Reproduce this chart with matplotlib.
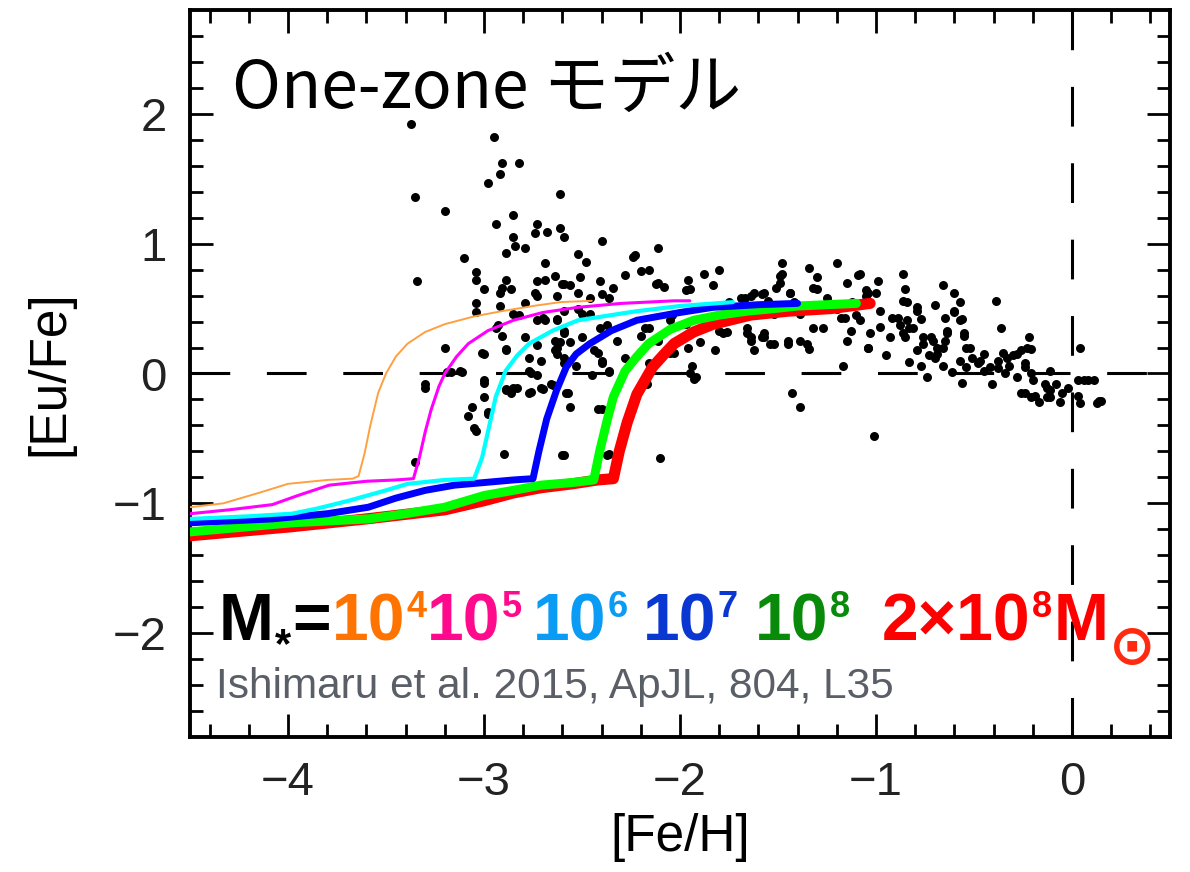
import numpy as np
import matplotlib
matplotlib.use("Agg")
import matplotlib.pyplot as plt

plt.rcParams['font.family'] = ['Liberation Sans', 'DejaVu Sans']

# ---- model tracks: [Fe/H] vs [Eu/Fe] for each stellar mass ----
x_1e4 = [-4.5, -4.33, -4.15, -4.0, -3.8, -3.67, -3.64, -3.61, -3.58, -3.54, -3.5, -3.45, -3.39,
         -3.3, -3.2, -3.05, -2.91, -2.75, -2.61, -2.45]
y_1e4 = [-1.03, -1.0, -0.92, -0.85, -0.82, -0.81, -0.79, -0.62, -0.40, -0.15, 0.0, 0.13, 0.23,
         0.32, 0.38, 0.44, 0.48, 0.52, 0.55, 0.56]

x_1e5 = [-4.5, -4.3, -4.08, -3.95, -3.79, -3.6, -3.45, -3.36, -3.33, -3.30, -3.27, -3.23, -3.2,
         -3.14, -3.08, -2.98, -2.85, -2.7, -2.52, -2.3, -2.03, -1.95]
y_1e5 = [-1.08, -1.05, -1.01, -0.94, -0.86, -0.83, -0.82, -0.81, -0.65, -0.45, -0.28, -0.1, 0.0,
         0.13, 0.23, 0.33, 0.41, 0.47, 0.51, 0.54, 0.56, 0.56]

x_1e6 = [-4.5, -4.2, -3.98, -3.85, -3.69, -3.5, -3.39, -3.2, -3.05, -3.01, -2.98, -2.94, -2.89,
         -2.83, -2.77, -2.65, -2.52, -2.35, -2.22, -2.0, -1.73]
y_1e6 = [-1.12, -1.10, -1.08, -1.04, -0.98, -0.9, -0.85, -0.82, -0.81, -0.65, -0.45, -0.18, 0.02,
         0.14, 0.23, 0.33, 0.41, 0.45, 0.48, 0.52, 0.55]

x_1e7 = [-4.5, -4.08, -3.8, -3.59, -3.45, -3.3, -3.15, -3.0, -2.85, -2.75, -2.72, -2.68, -2.63,
         -2.58, -2.53, -2.46, -2.35, -2.22, -2.0, -1.83, -1.6, -1.40]
y_1e7 = [-1.15, -1.12, -1.08, -1.03, -0.96, -0.9, -0.86, -0.84, -0.82, -0.81, -0.6, -0.35, -0.13,
         0.05, 0.15, 0.23, 0.33, 0.41, 0.47, 0.51, 0.53, 0.54]

x_1e8 = [-4.5, -3.98, -3.59, -3.4, -3.2, -3.0, -2.85, -2.71, -2.55, -2.44, -2.41, -2.37, -2.34,
         -2.28, -2.22, -2.16, -2.05, -1.93, -1.8, -1.66, -1.52, -1.40, -1.25, -1.10]
y_1e8 = [-1.22, -1.15, -1.12, -1.08, -1.03, -0.94, -0.9, -0.86, -0.84, -0.82, -0.6, -0.35, -0.18,
         0.02, 0.13, 0.23, 0.34, 0.41, 0.45, 0.48, 0.50, 0.52, 0.53, 0.54]

x_2e8 = [-4.5, -3.98, -3.6, -3.2, -3.0, -2.85, -2.71, -2.55, -2.42, -2.34, -2.31, -2.27, -2.22,
         -2.14, -2.08, -2.03, -1.93, -1.83, -1.64, -1.45, -1.23, -1.03]
y_2e8 = [-1.25, -1.18, -1.12, -1.05, -0.98, -0.92, -0.88, -0.85, -0.82, -0.81, -0.6, -0.38, -0.16,
         0.05, 0.15, 0.23, 0.32, 0.38, 0.45, 0.48, 0.50, 0.54]

# ---- observed stars ----
stars = [
    (-3.37, 1.92), (-2.95, 1.82), (-2.91, 1.62), (-2.82, 1.62), (-2.92, 1.54), (-2.98, 1.47),
    (-3.35, 1.36), (-2.61, 1.38), (-3.20, 1.25), (-2.85, 1.22), (-2.94, 1.15), (-2.73, 1.15),
    (-2.61, 1.12), (-2.74, 1.08), (-2.68, 1.09), (-2.59, 1.05), (-2.85, 1.05), (-2.40, 1.02),
    (-2.84, 0.98), (-2.79, 0.97), (-2.89, 0.93), (-3.10, 0.89), (-2.69, 0.85), (-2.52, 0.92),
    (-2.48, 0.86), (-2.24, 0.90), (-3.04, 0.78), (-3.34, 0.71), (-3.04, 0.72), (-3.00, 0.65),
    (-2.89, 0.72), (-2.86, 0.65), (-2.92, 0.62), (-2.73, 0.71), (-2.69, 0.72), (-2.64, 0.75),
    (-2.60, 0.69), (-2.56, 0.68), (-2.51, 0.74), (-2.41, 0.71), (-2.34, 0.66), (-2.28, 0.76),
    (-2.74, 0.62), (-2.63, 0.60), (-2.52, 0.62), (-2.46, 0.58),
    (-3.04, 0.54), (-2.92, 0.52), (-3.04, 0.47), (-2.82, 0.45), (-2.79, 0.54), (-2.36, 0.58),
    (-2.69, 0.41), (-2.63, 0.42), (-2.93, 0.37), (-2.46, 0.46), (-2.41, 0.35), (-2.37, 0.37),
    (-2.32, 0.25), (-2.91, 0.29), (-2.79, 0.28), (-2.64, 0.25), (-2.59, 0.31), (-2.56, 0.24),
    (-3.20, 0.20), (-3.01, 0.16), (-2.89, 0.18), (-2.73, 0.22), (-2.63, 0.20), (-2.77, 0.12),
    (-2.71, 0.10), (-2.63, 0.15), (-2.59, 0.08), (-2.42, 0.16), (-2.40, 0.08), (-2.28, 0.12),
    (-2.53, 0.06), (-3.19, 0.01), (-3.11, 0.01), (-2.76, 0.00), (-2.73, -0.01), (-2.45, -0.01),
    (-2.36, 0.01), (-3.30, -0.11), (-3.00, -0.07), (-2.89, -0.12), (-2.83, -0.11), (-2.86, -0.15),
    (-2.77, -0.15), (-2.70, -0.12), (-2.65, -0.09), (-2.57, -0.15), (-3.00, -0.18), (-2.56, -0.26),
    (-3.06, -0.26), (-3.08, -0.33), (-2.98, -0.31), (-3.05, -0.42), (-2.40, -0.27), (-2.90, -0.62),
    (-2.60, -0.63), (-2.37, -0.63), (-3.35, -0.68),
    (-2.11, 0.97), (-2.23, 0.91), (-2.20, 0.79), (-2.16, 0.80), (-2.11, 0.70), (-2.08, 0.67),
    (-1.96, 0.72), (-1.95, 0.65), (-1.88, 0.77), (-1.83, 0.68), (-1.80, 0.80), (-1.48, 0.85),
    (-1.48, 0.77), (-1.49, 0.70), (-1.34, 0.81), (-1.30, 0.74), (-1.30, 0.65), (-1.20, 0.85),
    (-1.15, 0.70), (-1.09, 0.76), (-1.62, 0.62), (-1.57, 0.62), (-1.44, 0.62), (-1.67, 0.58),
    (-2.20, 0.29), (-2.16, 0.35), (-2.04, 0.45), (-1.96, 0.20), (-1.90, 0.24), (-1.82, 0.18),
    (-1.76, 0.32), (-1.66, 0.35), (-1.64, 0.28), (-1.62, 0.18), (-1.57, 0.31), (-1.54, 0.23),
    (-1.45, 0.23), (-1.39, 0.25), (-1.34, 0.19), (-1.32, 0.35), (-1.27, 0.35), (-1.16, 0.43),
    (-1.13, 0.33), (-1.15, 0.25), (-1.08, 0.41), (-1.39, 0.46), (-1.52, 0.46), (-2.05, 0.16),
    (-1.94, 0.06), (-1.92, -0.03), (-1.17, 0.06), (-1.43, -0.15), (-2.17, -0.08), (-1.39, -0.26),
    (-2.10, -0.65),
    (-1.08, 0.77), (-0.99, 0.71), (-0.86, 0.77), (-1.04, 0.62), (-0.85, 0.65), (-0.66, 0.68),
    (-0.60, 0.62), (-0.57, 0.55), (-0.70, 0.53), (-0.84, 0.55), (-0.79, 0.51), (-0.98, 0.48),
    (-0.92, 0.43), (-0.88, 0.37), (-0.84, 0.41), (-0.81, 0.35), (-0.77, 0.42), (-0.65, 0.43),
    (-0.60, 0.47), (-0.56, 0.42), (-0.98, 0.36), (-1.03, 0.31), (-0.93, 0.28), (-0.86, 0.31),
    (-0.76, 0.28), (-0.71, 0.25), (-0.64, 0.33), (-0.55, 0.29), (-0.65, 0.25), (-1.04, 0.20),
    (-0.95, 0.14), (-0.79, 0.18), (-0.69, 0.20), (-0.73, 0.14), (-0.54, 0.20), (-0.70, 0.12),
    (-0.83, 0.09), (-0.77, 0.06), (-0.66, 0.06), (-0.51, 0.12), (-0.45, 0.15), (-0.35, 0.16),
    (-0.30, 0.14), (-0.26, 0.18), (-0.21, 0.19), (-0.22, 0.28), (-0.36, 0.35), (-0.48, 0.08),
    (-0.54, 0.05), (-0.45, 0.02), (-0.38, 0.04), (-0.32, 0.06), (-0.24, 0.08), (-0.61, 0.01),
    (-0.74, -0.03), (-0.56, -0.07), (-0.41, -0.08), (-0.34, 0.00), (-0.28, -0.03), (-0.20, -0.05),
    (-0.11, 0.02), (-0.14, -0.08), (-0.11, -0.13), (-0.13, -0.18), (-0.08, -0.08), (-0.05, -0.15),
    (-0.06, -0.22), (-0.02, -0.11), (0.03, -0.05), (0.08, -0.05), (0.11, -0.05), (0.03, -0.17),
    (0.04, -0.23), (0.13, -0.23), (0.15, -0.21), (-0.26, -0.15), (-0.19, -0.17), (-0.17, -0.22),
    (0.04, 0.20), (-0.39, 0.56), (-1.01, -0.48),
    (-2.91, 0.66), (-2.73, 0.60), (-2.59, 0.69), (-2.40, 0.61), (-2.12, 0.69), (-1.97, 0.64),
    (-1.69, 0.58), (-1.64, 0.60), (-1.58, 0.61), (-2.05, 0.41), (-1.97, 0.38), (-1.80, 0.33),
    (-1.64, 0.25), (-1.58, 0.28), (-2.03, 0.16), (-2.16, 0.08), (-2.11, 0.25), (-2.18, 0.35),
    (-1.95, 0.00), (-1.93, -0.04), (-2.59, 0.33), (-2.50, 0.28), (-2.61, 0.24), (-2.64, 0.18),
    (-2.59, 0.12), (-2.44, 0.18), (-2.40, 0.10), (-2.36, 0.02), (-2.58, -0.15), (-2.42, -0.27),
    (-2.59, -0.63), (-2.36, -0.62), (-3.00, -0.05), (-3.04, -0.44), (-2.98, -0.30), (-2.89, -0.13),
    (-2.85, -0.11), (-2.76, -0.14), (-2.71, -0.11), (-2.66, -0.08), (-3.00, 0.15), (-2.89, 0.19),
    (-2.77, 0.02), (-2.94, 0.35), (-2.85, 0.46), (-2.73, 0.41), (-2.70, 0.43), (-2.63, 0.41),
    (-2.59, 0.48), (-2.52, 0.50), (-2.50, 0.46), (-3.30, -0.08), (-3.17, 0.01), (-3.12, 0.02),
    (-1.75, 0.55), (-1.70, 0.50), (-1.60, 0.52), (-1.55, 0.56), (-1.42, 0.55), (-1.35, 0.50),
    (-1.25, 0.58), (-1.20, 0.50), (-1.12, 0.55), (-1.05, 0.60), (-1.00, 0.62), (-1.10, 0.45),
    (-0.89, 0.43), (-0.86, 0.56), (-0.85, 0.28), (-0.83, 0.35), (-0.79, 0.48), (-0.76, 0.23),
    (-0.72, 0.28), (-0.69, 0.15), (-0.66, 0.20), (-0.64, 0.31), (-0.60, 0.48), (-0.57, 0.41),
    (-0.55, 0.31), (-0.57, 0.10), (-0.52, 0.20), (-0.47, 0.10), (-0.42, 0.05), (-0.38, 0.10),
    (-0.33, 0.12), (-0.28, 0.15), (-0.23, 0.20), (-0.24, 0.05), (-0.21, 0.00), (-0.13, -0.11),
    (-0.11, -0.18), (0.06, -0.05), (0.14, -0.21), (-0.24, -0.15), (-0.21, -0.18),
    (-1.78, 0.31), (-1.66, 0.31), (-1.57, 0.28), (-1.52, 0.23), (-1.45, 0.25), (-1.35, 0.23),
    (-1.18, 0.43), (-1.04, 0.20), (-1.49, 0.75), (-1.51, 0.66), (-1.44, 0.62), (-1.32, 0.66),
    (-1.05, 0.64),
]
feh = [s[0] for s in stars]
eufe = [s[1] for s in stars]

W, H = 1190, 872
fig = plt.figure(figsize=(W / 100, H / 100), dpi=100)
ax = fig.add_axes([190 / W, 1 - 737 / H, 980 / W, 727 / H])

ax.axhline(0, color='black', lw=2.2, dashes=(13, 12), zorder=1)
ax.plot([0, 0], [2.8, -2.8], color='black', lw=2.2, dashes=(13, 12), zorder=1)

ax.scatter(feh, eufe, s=42, color='black', linewidths=0, zorder=2)

# drawn heaviest first so lighter tracks sit on top
tracks = [
    (x_2e8, y_2e8, '#ff0000', 8.0),
    (x_1e8, y_1e8, '#00ff00', 6.5),
    (x_1e7, y_1e7, '#0000ff', 5.0),
    (x_1e6, y_1e6, '#00ffff', 3.0),
    (x_1e5, y_1e5, '#ff00ff', 2.2),
    (x_1e4, y_1e4, '#ffa040', 1.4),
]
for i, (xs, ys, c, lw) in enumerate(tracks):
    ax.plot(xs, ys, color=c, lw=lw, solid_capstyle='round', solid_joinstyle='round', zorder=3 + i)

ax.set_xlim(-4.5, 0.5)
ax.set_ylim(-2.8, 2.8)
ax.set_xticks([-4, -3, -2, -1, 0])
ax.set_yticks([-2, -1, 0, 1, 2])
ax.set_xticks(np.arange(-4.4, 0.5, 0.2), minor=True)
ax.set_yticks(np.arange(-2.6, 2.7, 0.2), minor=True)
ax.tick_params(which='both', direction='in', top=True, right=True, width=2.0, colors='black',
               labelcolor='#222222')
ax.tick_params(which='major', length=16.5, labelsize=34, pad=17)
ax.tick_params(which='minor', length=9.5)
for sp in ax.spines.values():
    sp.set_linewidth(2.8)

ax.set_xlabel('[Fe/H]', fontsize=37)
ax.set_ylabel('[Eu/Fe]', fontsize=37)
ax.xaxis.set_label_coords(0.5, -0.105)
ax.yaxis.set_label_coords(-0.118, 0.5)

renderer = fig.canvas.get_renderer()


def ftext(px, py, s, color='black', size=47.5, weight='bold', after=None, **kw):
    # keep each piece just clear of the one before it
    if after is not None:
        right = after.get_window_extent(renderer).x1
        px = max(px, right + 1)
    t = fig.text(px / W, 1 - py / H, s, color=color, fontsize=size, fontweight=weight,
                 va='baseline', ha='left', **kw)
    return t


fig.text(232 / W, 1 - 108 / H, 'One-zone モデル', fontsize=47.5, color='black',
         family=['Noto Sans CJK JP', 'DejaVu Sans'], va='baseline', ha='left')

# mass labels
t = ftext(219, 640, 'M')
t = ftext(273, 657, '*', size=30, after=t)
t = ftext(288, 640, '=', after=t)
labels = [('#ff7300', 327, 398, '4'), ('#ff0a8c', 425, 498, '5'), ('#0a9bf5', 533, 605, '6'),
          ('#0a37d2', 643, 714, '7'), ('#0a8a0a', 755, 826, '8')]
for c, x0, x1, e in labels:
    t = ftext(x0, 640, '10', color=c, after=t)
    t = ftext(x1, 617, e, color=c, size=26, after=t)
t = ftext(882, 640, '2×10', color='#ff0000', after=t)
t = ftext(1032, 617, '8', color='#ff0000', size=26, after=t)
t = ftext(1053, 640, 'M', color='#ff0000', after=t)
ftext(1106, 664, '⊙', color='#ff2a10', size=40, family='DejaVu Sans', after=t)

ftext(216, 698, 'Ishimaru et al. 2015, ApJL, 804, L35', color='#5a5e66', size=30.5,
      weight='normal')

fig.savefig('out.png', dpi=100)
